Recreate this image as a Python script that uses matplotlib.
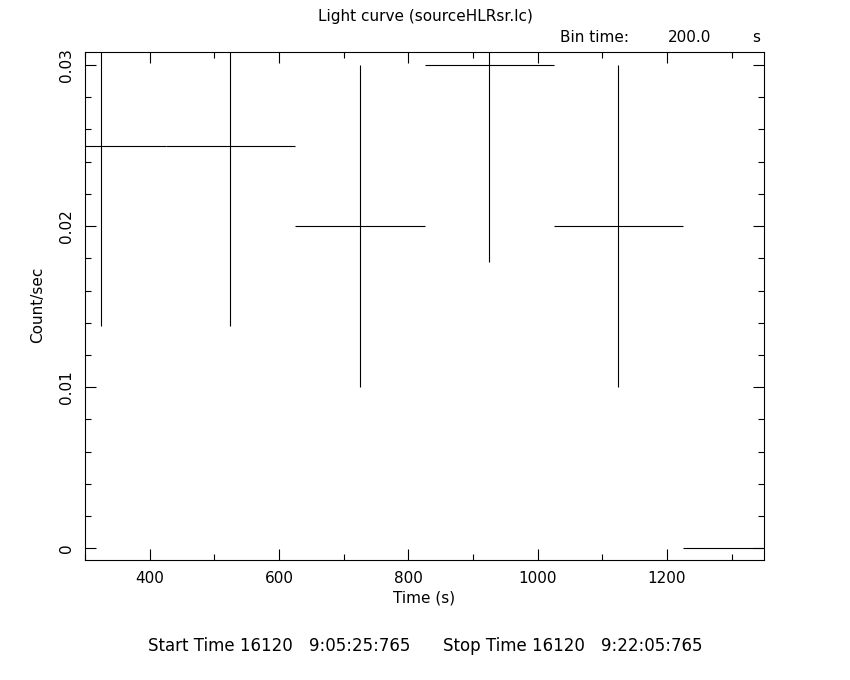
import matplotlib
matplotlib.use("Agg")
import matplotlib.pyplot as plt
from matplotlib.ticker import MultipleLocator

# Data: light curve bins (200 s)
bin_centers = [325, 525, 725, 925, 1125, 1325]
rates = [0.025, 0.025, 0.020, 0.030, 0.020, 0.0]
rate_errors = [0.01118, 0.01118, 0.010, 0.01225, 0.010, 0.0]
bin_half_width = 100

x_ticks = [400, 600, 800, 1000, 1200]
y_ticks = [0, 0.01, 0.02, 0.03]
y_tick_labels = ["0", "0.01", "0.02", "0.03"]

W, H = 850, 680
fig = plt.figure(figsize=(W / 100, H / 100), dpi=100)
ax = fig.add_axes([85 / W, 1 - 560 / H, (764 - 85) / W, (560 - 51.7) / H])

ax.errorbar(bin_centers, rates, xerr=bin_half_width, yerr=rate_errors,
            fmt="none", ecolor="black", elinewidth=0.8, capsize=0)

ax.set_xlim(300, 1350)
ax.set_ylim(-0.00073, 0.03083)

ax.set_xticks(x_ticks)
ax.set_xticklabels([str(t) for t in x_ticks])
ax.xaxis.set_minor_locator(MultipleLocator(100))
ax.set_yticks(y_ticks)
ax.set_yticklabels(y_tick_labels, rotation=90, va="center")
ax.yaxis.set_minor_locator(MultipleLocator(0.002))

ax.tick_params(which="both", direction="in", top=True, right=True,
               width=0.8, labelsize=11, colors="black")
ax.tick_params(which="major", length=8, pad=8)
ax.tick_params(which="minor", length=4)
for s in ax.spines.values():
    s.set_linewidth(0.8)

def px(x, y):
    return x / W, 1 - y / H

fs = 11
fig.text(*px(425, 16), "Light curve (sourceHLRsr.lc)", ha="center", va="center", fontsize=fs)
fig.text(*px(560, 38), "Bin time:", ha="left", va="center", fontsize=fs)
fig.text(*px(668, 38), "200.0", ha="left", va="center", fontsize=fs)
fig.text(*px(752, 38), "s", ha="left", va="center", fontsize=fs)
fig.text(*px(38, 305), "Count/sec", ha="center", va="center", rotation=90, fontsize=fs)
fig.text(*px(424, 598), "Time (s)", ha="center", va="center", fontsize=fs)
fb = 12
fig.text(*px(148, 646), "Start Time 16120", ha="left", va="center", fontsize=fb)
fig.text(*px(410, 646), "9:05:25:765", ha="right", va="center", fontsize=fb)
fig.text(*px(443, 646), "Stop Time 16120", ha="left", va="center", fontsize=fb)
fig.text(*px(702, 646), "9:22:05:765", ha="right", va="center", fontsize=fb)

fig.savefig("out.png", dpi=100, facecolor="white")
